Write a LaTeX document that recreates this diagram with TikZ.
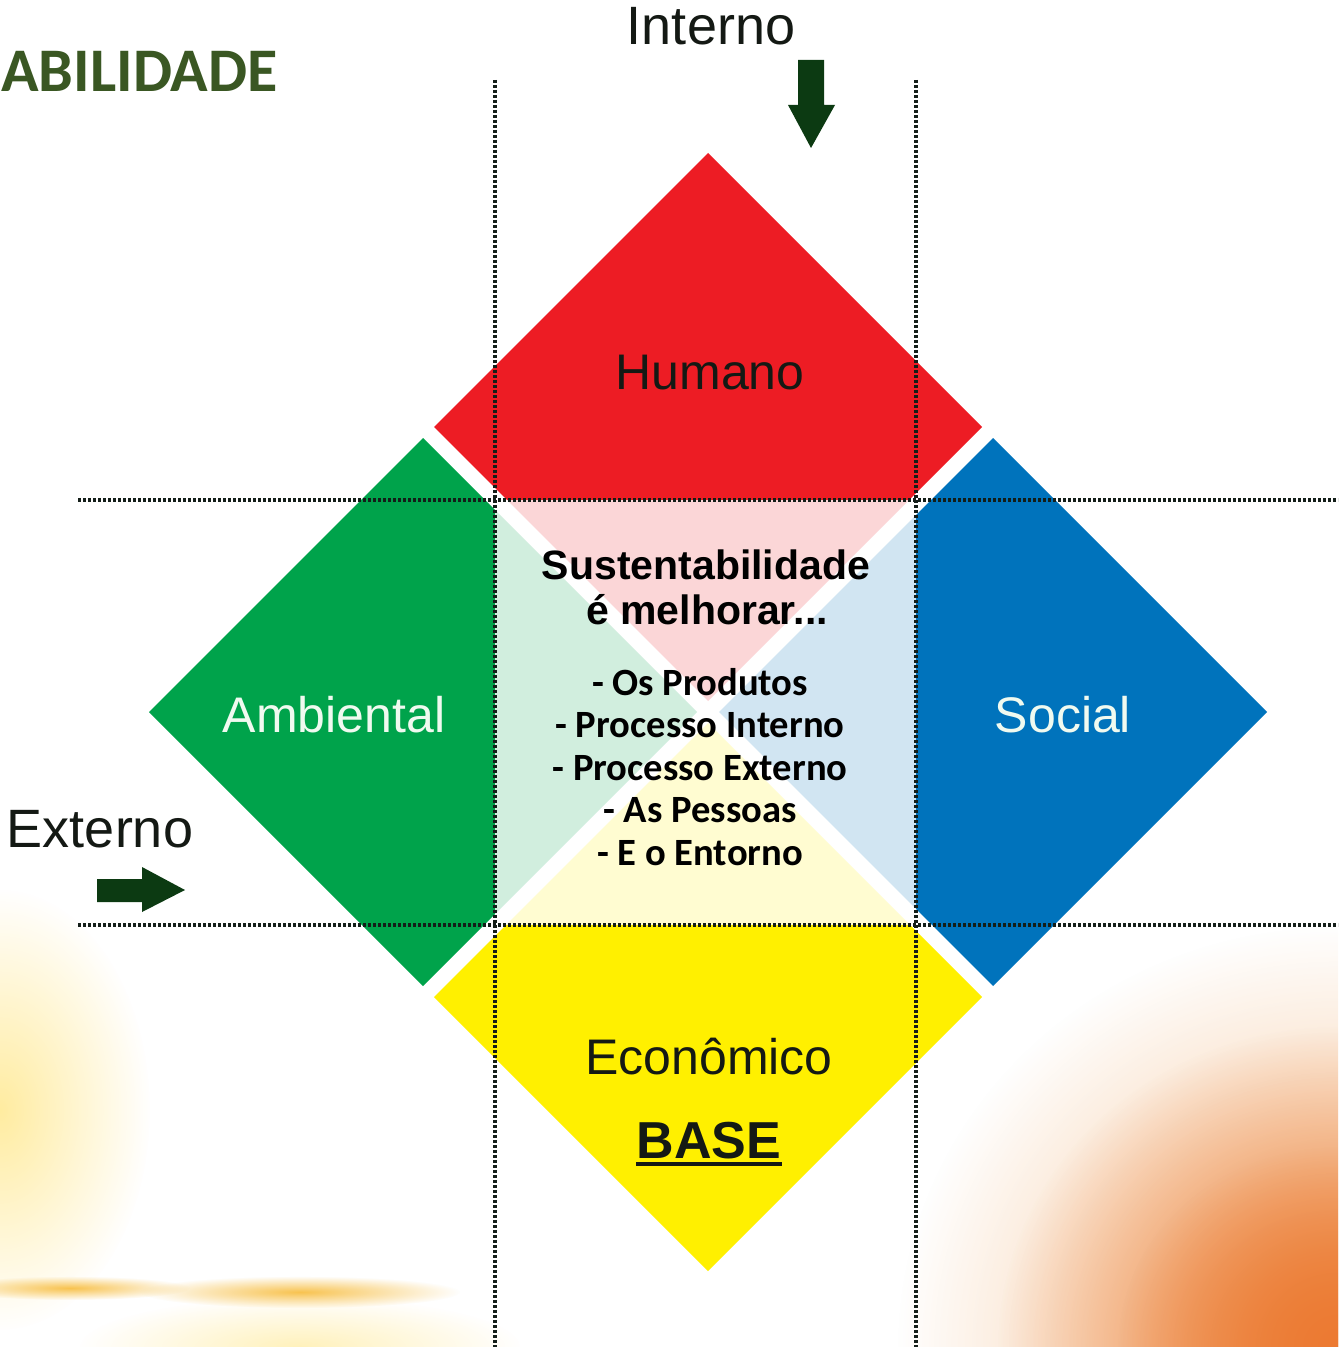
\documentclass[tikz,border=0pt]{standalone}
\usepackage{fontspec}
\setmainfont{Liberation Sans}
\newfontfamily\calib{Carlito}
\usetikzlibrary{fadings}
\definecolor{cRed}{RGB}{237,28,36}
\definecolor{cGreen}{RGB}{0,163,75}
\definecolor{cBlue}{RGB}{0,115,188}
\definecolor{cYellow}{RGB}{255,240,0}
\definecolor{arrowgreen}{RGB}{12,58,18}
\definecolor{titlegreen}{RGB}{58,87,35}
\definecolor{dotcol}{RGB}{20,30,25}
\definecolor{txtdark}{RGB}{20,25,20}
\definecolor{labwhite}{RGB}{240,250,240}
\definecolor{sunorange}{RGB}{236,122,50}
\definecolor{sunlight}{RGB}{240,165,95}
\definecolor{sunyellow}{RGB}{255,228,120}
\definecolor{streak}{RGB}{248,195,80}
\tikzfading[name=glowfade, inner color=transparent!0, outer color=transparent!100]
\begin{document}
\begin{tikzpicture}[x=0.5pt,y=-0.5pt,
  lab/.style={inner sep=0pt, anchor=base, text=txtdark},
  dotline/.style={draw=dotcol, line width=1.7pt, dash pattern=on 1.4pt off 1.1pt},
  blockarrow/.style={fill=arrowgreen, draw=none}]
\useasboundingbox (0,0) rectangle (1338,1347);
\fill[white] (0,0) rectangle (1338,1347);
% sunset background
\begin{scope}
\clip (0,0) rectangle (1338,1347);
\fill[sunlight, opacity=0.8, path fading=glowfade] (1338,1347) ellipse (220pt and 210pt);
\fill[sunorange, path fading=glowfade] (1338,1347) ellipse (170pt and 160pt);
\fill[sunorange, opacity=0.8, path fading=glowfade] (1338,1347) ellipse (110pt and 100pt);
\fill[sunyellow, opacity=0.7, path fading=glowfade] (0,1110) ellipse (75pt and 110pt);
\fill[sunyellow, opacity=0.5, path fading=glowfade] (300,1347) ellipse (110pt and 25pt);
\fill[streak, path fading=glowfade] (70,1288) ellipse (60pt and 6pt);
\fill[streak, path fading=glowfade] (300,1292) ellipse (80pt and 8pt);
\end{scope}
% diamonds
\fill[cRed]    (708,153) -- (982,427) -- (708,701) -- (434,427) -- cycle;
\fill[cGreen]  (423,438) -- (697,712) -- (423,986) -- (149,712) -- cycle;
\fill[cBlue]   (993,438) -- (1267,712) -- (993,986) -- (719,712) -- cycle;
\fill[cYellow] (708,723) -- (982,997) -- (708,1271) -- (434,997) -- cycle;
% faded centre
\fill[white, opacity=0.82] (495,500) rectangle (916,925);
% guide lines
\coordinate (v1t) at (495,80);  \coordinate (v1b) at (495,1347);
\coordinate (v2t) at (916,80);  \coordinate (v2b) at (916,1347);
\coordinate (h1l) at (78,500);  \coordinate (h1r) at (1338,500);
\coordinate (h2l) at (78,925);  \coordinate (h2r) at (1338,925);
\draw[dotline] (v1t) -- (v1b);
\draw[dotline] (v2t) -- (v2b);
\draw[dotline] (h1l) -- (h1r);
\draw[dotline] (h2l) -- (h2r);
% arrows
\fill[blockarrow] (798,60) -- (824,60) -- (824,105) -- (835,105) -- (811,148) -- (788,105) -- (798,105) -- cycle;
\fill[blockarrow] (97,879) -- (142,879) -- (142,867) -- (185,890) -- (142,912) -- (142,902) -- (97,902) -- cycle;
% texts
\node[inner sep=0pt, anchor=base west, text=titlegreen, font=\calib\bfseries\fontsize{31}{36}\selectfont] (title) at (1,92) {ABILIDADE};
\node[lab, font=\fontsize{27}{32}\selectfont] (interno) at (711,45) {Interno};
\node[lab, font=\fontsize{27}{32}\selectfont] (externo) at (100,847) {Externo};
\node[lab, font=\fontsize{25}{30}\selectfont] (humano) at (710,390) {Humano};
\node[lab, text=labwhite, font=\fontsize{25}{30}\selectfont] (ambiental) at (334,732) {Ambiental};
\node[lab, text=labwhite, font=\fontsize{25}{30}\selectfont] (social) at (1063,732) {Social};
\node[lab, font=\fontsize{25}{30}\selectfont] (economico) at (709,1074) {Econômico};
\node[lab, font=\bfseries\fontsize{26}{31}\selectfont] (base) at (709,1158) {BASE};
\draw[txtdark, line width=1.8pt] ([yshift=-3pt]base.base west) -- ([yshift=-3pt]base.base east);
\node[lab, text=black, font=\bfseries\fontsize{20.5}{24}\selectfont] (sust) at (706,579) {Sustentabilidade};
\node[lab, text=black, font=\bfseries\fontsize{20.5}{24}\selectfont] (melh) at (707,624) {é melhorar...};
\node[lab, text=black, font=\calib\bfseries\fontsize{19.3}{23}\selectfont] (l1) at (700,695) {- Os Produtos};
\node[lab, text=black, font=\calib\bfseries\fontsize{19.3}{23}\selectfont] (l2) at (700,737) {- Processo Interno};
\node[lab, text=black, font=\calib\bfseries\fontsize{19.3}{23}\selectfont] (l3) at (700,780) {- Processo Externo};
\node[lab, text=black, font=\calib\bfseries\fontsize{19.3}{23}\selectfont] (l4) at (700,822) {- As Pessoas};
\node[lab, text=black, font=\calib\bfseries\fontsize{19.3}{23}\selectfont] (l5) at (700,865) {- E o Entorno};
\end{tikzpicture}
\end{document}
